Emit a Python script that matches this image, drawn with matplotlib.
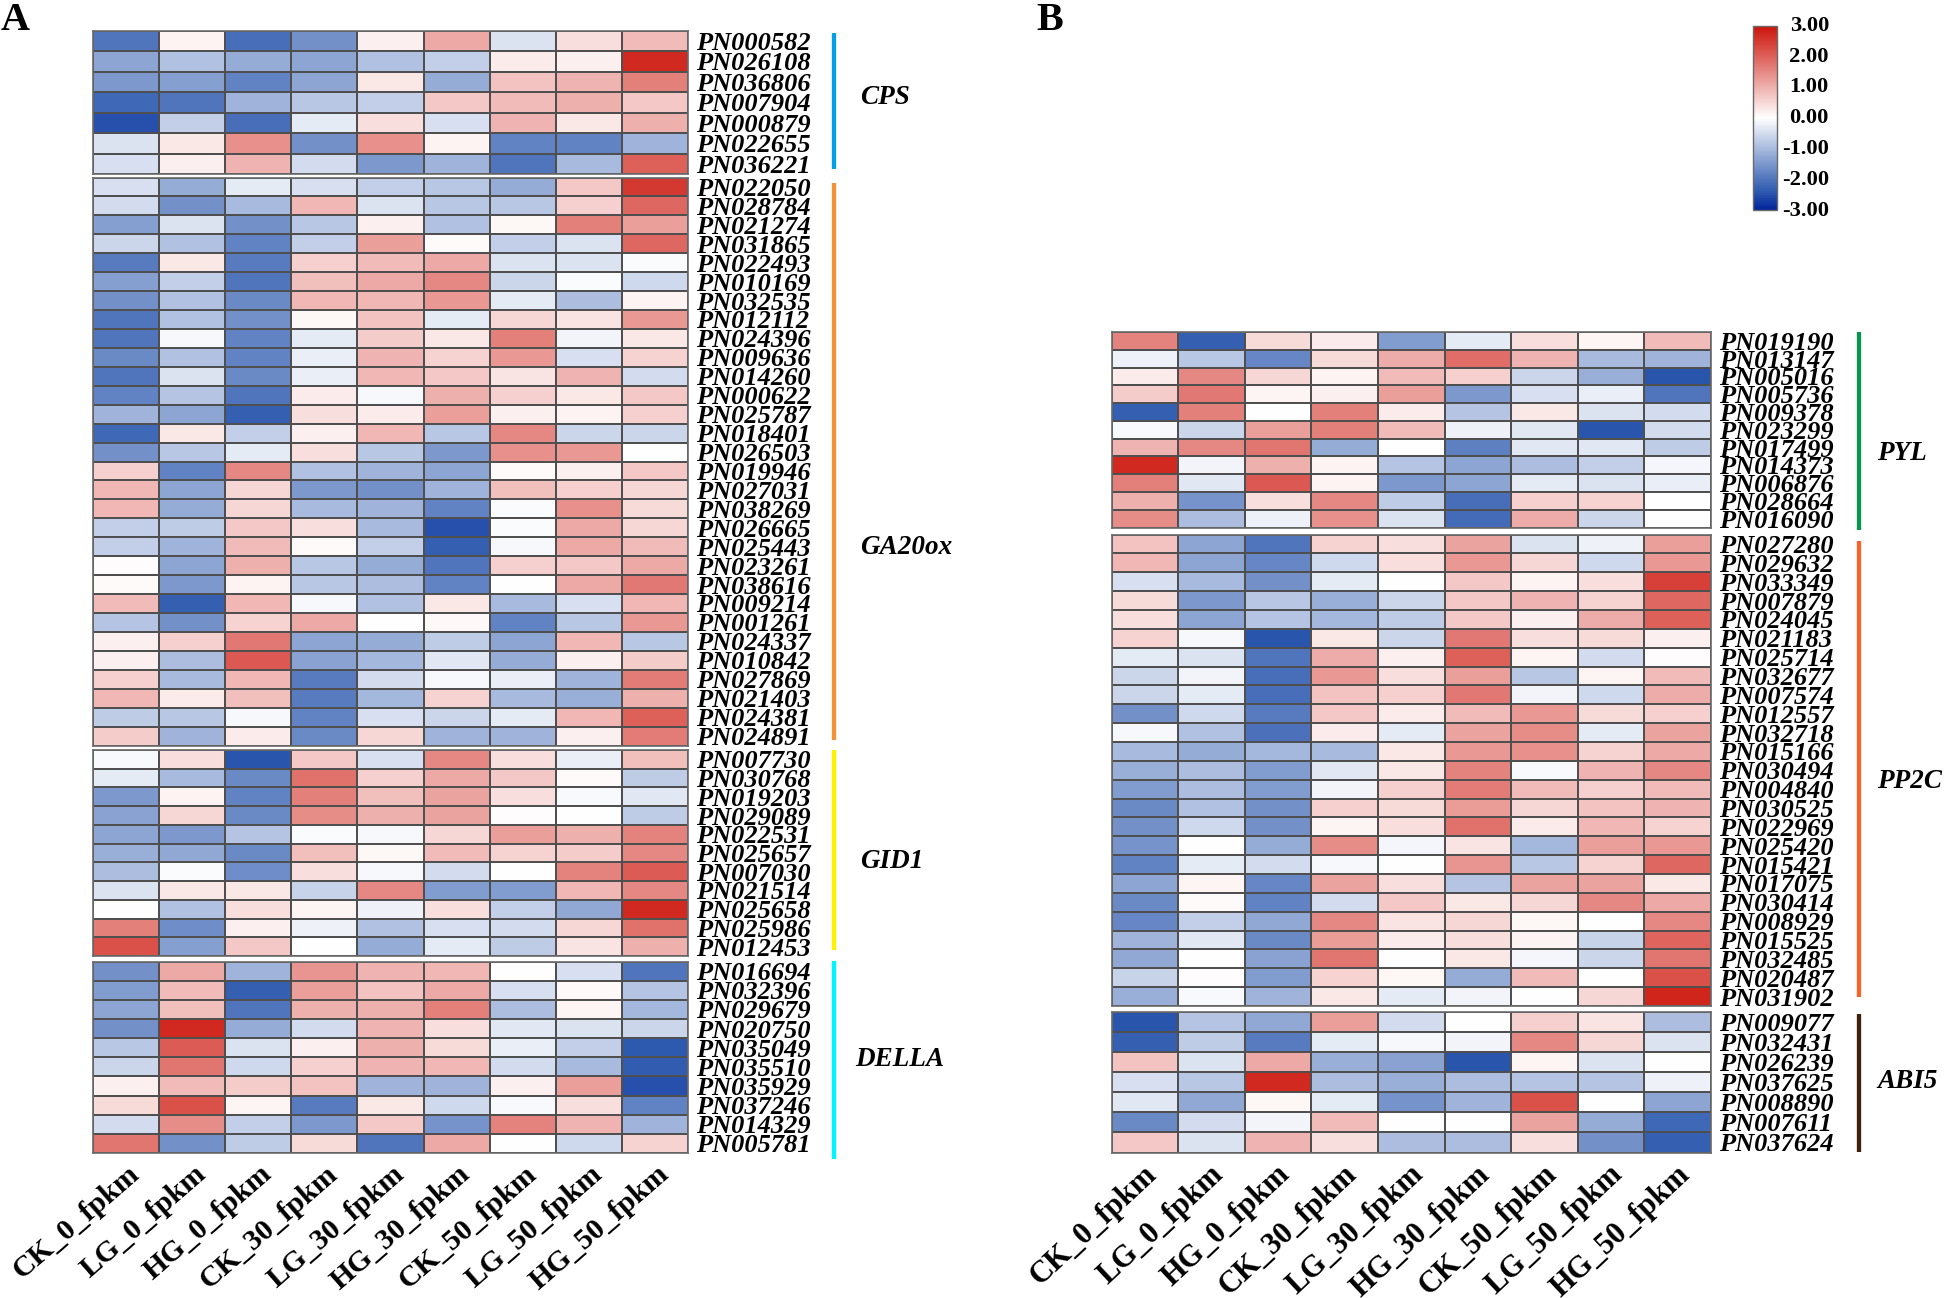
"""Expression heatmaps of GA (A) and ABA (B) pathway genes, gene families stacked."""
import matplotlib
matplotlib.use("Agg")
import numpy as np
import matplotlib.pyplot as plt
from matplotlib.colors import LinearSegmentedColormap, Normalize
from matplotlib.cm import ScalarMappable
from matplotlib.transforms import ScaledTranslation

samples = ["CK_0_fpkm", "LG_0_fpkm", "HG_0_fpkm", "CK_30_fpkm", "LG_30_fpkm",
           "HG_30_fpkm", "CK_50_fpkm", "LG_50_fpkm", "HG_50_fpkm"]

cps_genes = ["PN000582", "PN026108", "PN036806", "PN007904", "PN000879", "PN022655", "PN036221"]
cps_values = [
    [-2.0, 0.15, -2.1, -1.6, 0.2, 1.1, -0.4, 0.4, 0.85],
    [-1.3, -0.9, -1.2, -1.3, -0.9, -0.7, 0.25, 0.2, 2.7],
    [-1.5, -1.4, -1.8, -1.3, 0.3, -1.2, 0.75, 0.95, 1.6],
    [-2.2, -2.0, -1.1, -0.8, -0.7, 0.7, 0.85, 1.0, 0.7],
    [-2.5, -0.7, -2.1, -0.3, 0.4, -0.45, 0.95, 0.3, 1.0],
    [-0.4, 0.3, 1.4, -1.6, 1.4, 0.15, -1.8, -1.8, -1.1],
    [-0.45, 0.2, 0.95, -0.5, -1.5, -1.1, -2.0, -1.0, 2.0],
]

ga20ox_genes = ["PN022050", "PN028784", "PN021274", "PN031865", "PN022493", "PN010169",
                "PN032535", "PN012112", "PN024396", "PN009636", "PN014260", "PN000622",
                "PN025787", "PN018401", "PN026503", "PN019946", "PN027031", "PN038269",
                "PN026665", "PN025443", "PN023261", "PN038616", "PN009214", "PN001261",
                "PN024337", "PN010842", "PN027869", "PN021403", "PN024381", "PN024891"]
ga20ox_values = [
    [-0.45, -1.2, -0.3, -0.45, -0.7, -0.8, -1.2, 0.7, 2.5],
    [-0.5, -1.6, -1.0, 0.9, -0.4, -0.8, -0.8, 0.6, 1.9],
    [-1.4, -0.4, -1.6, -0.8, 0.2, -0.9, 0.1, 1.6, 1.2],
    [-0.6, -0.9, -1.8, -0.7, 1.2, 0.05, -0.7, -0.4, 1.9],
    [-1.9, 0.3, -1.9, 0.6, 0.85, 1.1, -0.4, -0.4, -0.05],
    [-1.4, -0.7, -2.0, 0.8, 1.1, 1.5, -0.6, -0.05, -0.55],
    [-1.6, -0.9, -1.7, 0.9, 0.9, 1.3, -0.3, -0.95, 0.15],
    [-2.0, -0.9, -1.6, 0.1, 0.75, -0.3, 0.5, 0.35, 1.3],
    [-2.0, -0.1, -1.8, -0.3, 0.65, 0.3, 1.6, -0.15, 0.3],
    [-1.7, -0.9, -1.8, -0.25, 0.95, 0.55, 1.3, -0.45, 0.55],
    [-2.0, -0.4, -1.7, -0.25, 0.9, 0.7, 0.35, 0.95, -0.5],
    [-1.8, -0.85, -2.0, 0.25, -0.1, 1.0, 0.6, 0.3, 0.7],
    [-1.1, -1.3, -2.3, 0.4, 0.25, 1.2, 0.2, 0.15, 0.6],
    [-2.2, 0.3, -0.7, 0.2, 0.9, -0.8, 1.5, -0.6, -0.6],
    [-1.6, -0.8, -0.3, 0.4, -0.8, -1.5, 1.4, 1.3, 0.0],
    [0.6, -1.8, 1.5, -0.9, -1.1, -1.3, 0.05, 0.2, 0.7],
    [0.9, -1.3, 0.5, -1.5, -1.6, -1.1, 0.8, 0.6, 0.5],
    [0.9, -1.2, 0.5, -1.0, -1.1, -1.8, -0.05, 1.4, 0.45],
    [-0.7, -0.75, 0.7, 0.4, -1.0, -2.5, -0.05, 1.1, 0.5],
    [-0.7, -1.1, 0.85, 0.05, -0.7, -2.3, -0.1, 1.1, 0.85],
    [0.03, -1.3, 1.0, -0.8, -1.2, -2.0, 0.6, 0.7, 1.1],
    [0.07, -1.5, 0.15, -0.8, -0.95, -1.8, 0.0, 1.1, 1.7],
    [0.85, -2.3, 0.9, -0.1, -0.9, 0.3, -1.0, -0.45, 0.9],
    [-0.85, -1.6, 0.55, 1.1, 0.0, 0.08, -1.8, -0.8, 1.3],
    [0.2, 0.6, 1.7, -1.3, -1.2, -0.75, -1.3, 0.9, -0.8],
    [0.2, -0.95, 2.1, -1.35, -1.05, -0.35, -1.2, 0.2, 0.65],
    [0.6, -1.0, 0.9, -1.9, -0.5, -0.1, -0.25, -1.1, 1.65],
    [0.9, 0.25, 0.8, -1.9, -1.05, 0.55, -1.0, -1.15, 1.0],
    [-0.75, -0.8, -0.1, -1.8, -0.45, -0.6, -0.3, 0.9, 2.0],
    [0.65, -1.1, 0.25, -1.7, 0.5, -1.1, -1.1, 0.2, 1.65],
]

gid1_genes = ["PN007730", "PN030768", "PN019203", "PN029089", "PN022531", "PN025657",
              "PN007030", "PN021514", "PN025658", "PN025986", "PN012453"]
gid1_values = [
    [-0.08, 0.4, -2.45, 0.7, -0.45, 1.5, 0.4, -0.25, 0.8],
    [-0.3, -1.0, -1.7, 1.8, 0.6, 1.1, 0.7, 0.07, -0.75],
    [-1.5, 0.15, -1.8, 1.6, 0.8, 1.15, 0.4, -0.08, -0.35],
    [-1.35, 0.5, -1.7, 1.45, 1.0, 1.15, 0.03, 0.0, -0.75],
    [-1.3, -1.5, -0.85, -0.05, -0.1, 0.5, 1.2, 1.0, 1.55],
    [-1.15, -1.25, -1.7, 0.8, 0.1, 0.85, 0.55, 0.65, 1.5],
    [-0.95, -0.07, -1.65, 0.4, -0.1, -0.5, 0.0, 1.55, 2.05],
    [-0.4, 0.3, 0.3, -0.65, 1.5, -1.45, -1.45, 0.9, 1.5],
    [0.0, -0.9, 0.4, 0.12, -0.2, 0.4, -0.7, -1.25, 2.7],
    [1.6, -1.65, 0.2, -0.2, -0.9, -0.45, -0.5, 0.5, 1.8],
    [2.2, -1.4, 0.7, 0.0, -1.2, -0.3, -0.75, 0.35, 1.0],
]

della_genes = ["PN016694", "PN032396", "PN029679", "PN020750", "PN035049", "PN035510",
               "PN035929", "PN037246", "PN014329", "PN005781"]
della_values = [
    [-1.6, 1.1, -1.1, 1.35, 0.95, 0.9, 0.0, -0.45, -2.0],
    [-1.45, 0.85, -2.3, 1.2, 0.75, 1.1, -0.45, 0.08, -0.85],
    [-1.3, 0.8, -2.0, 1.0, 1.0, 1.6, -0.95, 0.12, -1.05],
    [-1.6, 2.7, -1.2, -0.5, 0.95, 0.4, -0.35, -0.4, -0.6],
    [-0.8, 2.05, -0.4, 0.2, 1.0, 0.45, -0.25, -0.7, -2.4],
    [-0.6, 1.75, -0.55, 0.6, 0.95, 0.9, -0.5, -1.0, -2.35],
    [0.2, 0.85, 0.65, 0.75, -1.1, -1.1, 0.2, 1.2, -2.5],
    [0.45, 2.2, 0.12, -1.9, 0.3, -0.55, -0.08, 0.4, -1.8],
    [-0.5, 1.45, -0.7, -1.5, 0.7, -1.55, 1.55, 0.95, -1.1],
    [1.75, -1.6, -0.75, 0.45, -2.0, 1.1, 0.02, -0.55, 0.55],
]

pyl_genes = ["PN019190", "PN013147", "PN005016", "PN005736", "PN009378", "PN023299",
             "PN017499", "PN014373", "PN006876", "PN028664", "PN016090"]
pyl_values = [
    [1.55, -2.3, 0.45, 0.25, -1.45, -0.3, 0.4, 0.12, 0.85],
    [-0.2, -0.8, -1.75, 0.45, 1.05, 1.85, 0.95, -1.0, -1.1],
    [0.25, 1.5, 0.5, 0.15, 0.85, 0.6, -0.6, -1.15, -2.45],
    [0.65, 1.7, 0.12, 0.2, 1.2, -1.5, -0.45, -0.25, -2.0],
    [-2.3, 1.6, 0.02, 1.6, 0.25, -0.85, 0.3, -0.4, -0.5],
    [-0.08, -0.6, 1.2, 1.6, 0.85, -0.2, -0.35, -2.45, -0.5],
    [0.95, 1.5, 1.75, -1.2, 0.0, -1.85, -0.35, -0.35, -0.75],
    [2.7, -0.15, 1.0, 0.15, -0.85, -1.3, -0.95, -0.7, -0.12],
    [1.6, -0.35, 2.1, 0.15, -1.5, -1.3, -0.3, -0.4, -0.25],
    [1.0, -1.55, 0.4, 1.5, -0.75, -2.1, 0.6, 0.55, 0.0],
    [1.45, -0.95, -0.2, 1.4, -0.4, -2.15, 1.05, -0.6, 0.0],
]

pp2c_genes = ["PN027280", "PN029632", "PN033349", "PN007879", "PN024045", "PN021183",
              "PN025714", "PN032677", "PN007574", "PN012557", "PN032718", "PN015166",
              "PN030494", "PN004840", "PN030525", "PN022969", "PN025420", "PN015421",
              "PN017075", "PN030414", "PN008929", "PN015525", "PN032485", "PN020487",
              "PN031902"]
pp2c_values = [
    [0.75, -1.3, -2.0, 0.55, 0.4, 1.15, -0.4, -0.2, 1.2],
    [0.9, -1.3, -1.75, -0.55, 0.4, 1.3, 0.5, -0.55, 1.3],
    [-0.45, -1.0, -1.6, -0.3, 0.0, 0.7, 0.15, 0.4, 2.4],
    [0.45, -1.5, -0.8, -1.15, -0.6, 0.7, 0.95, 0.55, 1.9],
    [0.4, -1.3, -0.85, -1.05, -0.75, 0.7, 0.2, 1.05, 2.0],
    [0.55, -0.1, -2.45, 0.3, -0.6, 1.7, 0.4, 0.45, 0.2],
    [-0.3, -0.4, -2.0, 1.05, 0.2, 2.0, 0.12, -0.5, 0.03],
    [-0.6, -0.15, -2.1, 1.3, 0.4, 1.2, -0.8, 0.12, 0.85],
    [-0.6, -0.3, -2.1, 0.75, 0.6, 1.7, -0.15, -0.55, 1.05],
    [-1.6, -0.55, -1.9, 0.7, 0.25, 0.85, 1.3, 0.45, 0.6],
    [-0.1, -0.9, -2.05, 0.25, -0.3, 1.15, 1.45, -0.3, 1.15],
    [-1.0, -1.2, -1.05, -1.0, 0.3, 1.3, 1.4, 0.55, 1.1],
    [-1.15, -0.95, -1.45, -0.35, 0.3, 1.55, -0.08, 0.95, 1.5],
    [-1.45, -0.95, -1.45, -0.15, 0.6, 1.65, 0.85, 0.6, 0.85],
    [-1.7, -0.9, -1.6, 0.6, 0.45, 1.25, 0.5, 0.75, 0.95],
    [-1.6, -0.55, -1.6, 0.12, 0.4, 1.8, 0.25, 0.9, 0.55],
    [-1.55, 0.02, -1.2, 1.45, -0.12, 0.35, -1.05, 1.2, 1.3],
    [-1.8, -0.3, -0.5, -0.1, 0.0, 1.35, -0.8, 0.55, 1.9],
    [-1.3, 0.12, -1.75, 1.15, 0.4, -0.85, 1.15, 1.15, 0.3],
    [-1.7, 0.07, -1.8, -0.5, 0.7, 0.3, 0.5, 1.5, 1.1],
    [-1.75, -0.7, -1.25, 1.5, 0.35, 0.5, 0.1, 0.0, 1.5],
    [-1.1, -0.35, -1.7, 1.25, 0.25, 0.4, 0.15, -0.65, 1.95],
    [-1.25, 0.0, -1.35, 1.75, 0.0, 0.3, -0.12, -0.6, 1.75],
    [-0.65, 0.04, -1.45, 0.55, 0.1, -1.2, 0.85, 0.02, 2.2],
    [-1.15, -0.08, -1.1, 0.3, -0.3, -0.15, 0.0, 0.5, 2.75],
]

abi5_genes = ["PN009077", "PN032431", "PN026239", "PN037625", "PN008890", "PN007611", "PN037624"]
abi5_values = [
    [-2.45, -0.85, -1.25, 1.2, -0.5, 0.02, 0.6, 0.35, -0.95],
    [-2.3, -0.75, -1.9, -0.3, -0.1, -0.15, 1.5, 0.5, -0.4],
    [0.75, -0.4, 1.1, -1.15, -1.35, -2.45, 0.12, -0.4, 0.0],
    [-0.45, -0.8, 2.7, -0.95, -1.15, -0.95, -0.85, -0.85, -0.2],
    [-0.35, -1.25, 0.1, -0.3, -1.55, -1.1, 2.2, 0.0, -1.3],
    [-1.7, -0.5, -0.15, 0.85, 0.0, 0.02, 1.15, -1.2, -2.2],
    [0.7, -0.4, 0.95, 0.4, -0.95, -0.95, 0.4, -1.6, -2.3],
]

cbar_ticks = [-3, -2, -1, 0, 1, 2, 3]
cbar_labels = ["-3.00", "-2.00", "-1.00", "0.00", "1.00", "2.00", "3.00"]

W, H = 1944, 1298
SERIF = "Liberation Serif"
# darkest cells stay a bit lighter than a straight blue-white ramp
cmap = LinearSegmentedColormap.from_list(
    "bwr_fig", [(0.0, "#00239a"), (0.1, "#2e5aaf"), (0.5, "#ffffff"), (1.0, "#cc1208")])
norm = Normalize(vmin=-3, vmax=3)


def px_axes(fig, x0, y0, x1, y1):
    """Axes from pixel box, y measured from the top of the image."""
    return fig.add_axes([x0 / W, 1 - y1 / H, (x1 - x0) / W, (y1 - y0) / H])


def draw_group(fig, box, genes, values, name, color, bar, name_pos,
               xlabels=False, xshift=1, rot=41, xsize=21.5):
    ax = px_axes(fig, *box)
    n = len(genes)
    ax.pcolormesh(np.array(values), cmap=cmap, norm=norm, edgecolors="#4f4f4f", linewidth=1.1)
    ax.set_xlim(0, 9)
    ax.set_ylim(n, 0)
    ax.yaxis.tick_right()
    ax.set_yticks(np.arange(n) + 0.5)
    ax.set_yticklabels(genes, family=SERIF, weight="bold", style="italic", fontsize=19)
    ax.tick_params(axis="y", length=0, pad=5.8)
    ax.tick_params(axis="x", length=0, pad=6)
    for spine in ax.spines.values():
        spine.set_color("#6a6a6a")
        spine.set_linewidth(1.2)
    if xlabels:
        ax.set_xticks(np.arange(9) + 0.5)
        ax.set_xticklabels(samples, family=SERIF, weight="bold", fontsize=xsize,
                           rotation=rot, ha="right", va="top", rotation_mode="anchor")
        offset = ScaledTranslation(xshift / 100, 1 / 100, fig.dpi_scale_trans)
        for lab in ax.get_xticklabels():
            lab.set_transform(lab.get_transform() + offset)
    else:
        ax.set_xticks([])
    # family bar and name sit to the right of the gene ids, placed in image pixels
    cell_w = (box[2] - box[0]) / 9
    cell_h = (box[3] - box[1]) / n
    to_x = lambda px: 9 + (px - box[2]) / cell_w
    to_y = lambda py: (py - box[1]) / cell_h
    ax.plot([to_x(bar[0])] * 2, [to_y(bar[1]), to_y(bar[2])], color=color, linewidth=3.1,
            clip_on=False, solid_capstyle="butt")
    ax.text(to_x(name_pos[0]), to_y(name_pos[1]), name, family=SERIF, weight="bold",
            style="italic", fontsize=19.5, va="center", ha="left")
    return ax


def main():
    fig = plt.figure(figsize=(W / 100, H / 100), dpi=100)

    # panel A
    draw_group(fig, (93, 30.5, 688, 174), cps_genes, cps_values, "CPS", "#00a0e9",
               (834, 33, 169), (860, 97))
    draw_group(fig, (93, 177.5, 688, 745.5), ga20ox_genes, ga20ox_values, "GA20ox", "#f39237",
               (834, 183, 740), (860, 548))
    draw_group(fig, (93, 750, 688, 956), gid1_genes, gid1_values, "GID1", "#fff100",
               (834, 750, 950), (860, 861))
    draw_group(fig, (93, 961.5, 688, 1153), della_genes, della_values, "DELLA", "#00f5ff",
               (834, 960.5, 1158.5), (855, 1060), xlabels=True, xshift=1)

    # panel B
    draw_group(fig, (1111.5, 332, 1711, 527.5), pyl_genes, pyl_values, "PYL", "#0a9450",
               (1858.5, 332, 530), (1877, 453))
    draw_group(fig, (1111.5, 534.5, 1711, 1006), pp2c_genes, pp2c_values, "PP2C", "#f9622a",
               (1858.5, 541, 996.5), (1877, 781))
    draw_group(fig, (1111.5, 1012, 1711, 1152.5), abi5_genes, abi5_values, "ABI5", "#40220f",
               (1858.5, 1014, 1152), (1877, 1081), xlabels=True, xshift=-2, rot=43, xsize=22)

    fig.text(1 / W, 1 - 21 / H, "A", family=SERIF, weight="bold", fontsize=29, va="center", ha="left")
    fig.text(1036 / W, 1 - 21 / H, "B", family=SERIF, weight="bold", fontsize=29, va="center", ha="left")

    # colour key
    cax = px_axes(fig, 1753, 25.5, 1777, 210)
    cb = fig.colorbar(ScalarMappable(norm=norm, cmap=cmap), cax=cax)
    cb.set_ticks(cbar_ticks)
    cb.set_ticklabels(cbar_labels)
    cb.outline.set_edgecolor("#6a6a6a")
    cb.outline.set_linewidth(1.0)
    cax.tick_params(length=0, pad=37.4)
    label_shift = ScaledTranslation(0, 2 / 100, fig.dpi_scale_trans)
    for lab in cax.get_yticklabels():
        lab.set_family(SERIF)
        lab.set_weight("bold")
        lab.set_fontsize(16.2)
        lab.set_ha("right")
        lab.set_transform(lab.get_transform() + label_shift)

    fig.savefig("out.png", dpi=100)


if __name__ == "__main__":
    main()
